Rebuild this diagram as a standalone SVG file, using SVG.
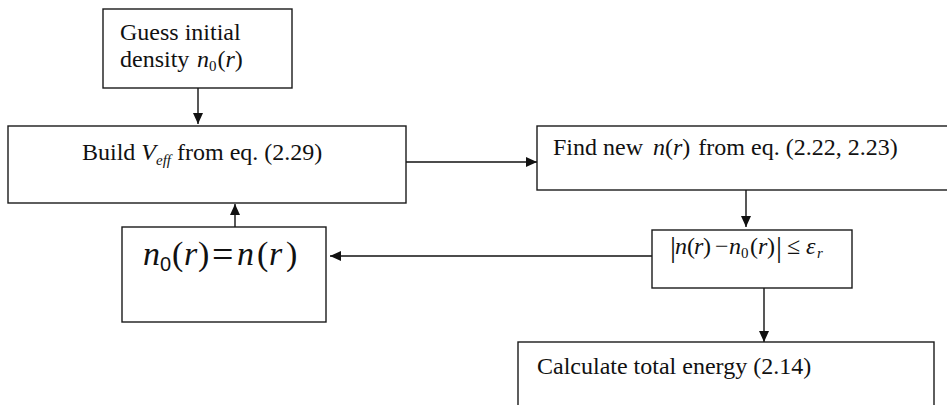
<svg xmlns="http://www.w3.org/2000/svg" width="947" height="405" viewBox="0 0 947 405">
<style>
.box{fill:#fff;stroke:#1a1a1a;stroke-width:1.4}
.t{font-family:"Liberation Serif","Times New Roman",serif;font-size:24px;fill:#111}
.i{font-style:italic}
.sub{font-size:15px}
.big{font-size:34px}
.con{fill:none;stroke:#111;stroke-width:1.4}
</style>
<defs>
<marker id="arr" markerUnits="userSpaceOnUse" markerWidth="12" markerHeight="12" viewBox="0 0 12 12" refX="11" refY="6" orient="auto">
<path d="M0,1 L11,6 L0,11 Z" fill="#111"/>
</marker>
</defs>
<rect width="947" height="405" fill="#fff"/>
<g id="connectors">
<path class="con" d="M198,88 V124" marker-end="url(#arr)"/>
<path class="con" d="M406,162 H537" marker-end="url(#arr)"/>
<path class="con" d="M746,190 V227" marker-end="url(#arr)"/>
<path class="con" d="M652,256 H330" marker-end="url(#arr)"/>
<path class="con" d="M235,227 V204" marker-end="url(#arr)"/>
<path class="con" d="M764,288 V342" marker-end="url(#arr)"/>
</g>
<g id="guess">
<rect class="box" x="103" y="9" width="189" height="79"/>
<text class="t" x="120" y="40">Guess initial</text>
<text class="t" x="120" y="67">density <tspan class="i" x="197">n</tspan><tspan class="sub" dy="4">0</tspan><tspan dy="-4" dx="1">(</tspan><tspan class="i">r</tspan>)</text>
</g>
<g id="build">
<rect class="box" x="8" y="126" width="398" height="77"/>
<text class="t" x="82" y="160">Build <tspan class="i">V</tspan><tspan class="i sub" dy="5">eff</tspan><tspan dy="-5"> from eq. (2.29)</tspan></text>
</g>
<g id="find">
<rect class="box" x="537" y="126" width="430" height="64"/>
<text class="t" x="553" y="155">Find new <tspan class="i" dx="4">n</tspan>(<tspan class="i">r</tspan>)<tspan dx="2"> from eq. (2.22, 2.23)</tspan></text>
</g>
<g id="check">
<rect class="box" x="652" y="230" width="200" height="58"/>
<text class="t" y="254"><tspan x="670" font-size="30" dy="3">|</tspan><tspan class="i" x="675" dy="-3">n</tspan><tspan x="687">(</tspan><tspan class="i" x="694">r</tspan><tspan x="703">)</tspan><tspan x="715">−</tspan><tspan class="i" x="729">n</tspan><tspan class="sub" x="741" dy="4">0</tspan><tspan x="750" dy="-4">(</tspan><tspan class="i" x="758">r</tspan><tspan x="767">)</tspan><tspan x="776" font-size="30" dy="3">|</tspan><tspan x="787" dy="-3">≤</tspan><tspan class="i" x="806">ε</tspan><tspan class="i sub" x="817" dy="4">r</tspan></text>
</g>
<g id="update">
<rect class="box" x="122" y="227" width="204" height="95"/>
<text class="t big" y="265"><tspan class="i" x="143">n</tspan><tspan font-size="20" x="160" dy="6" font-family="Liberation Sans, sans-serif">0</tspan><tspan x="172" dy="-6">(</tspan><tspan class="i" x="184">r</tspan><tspan x="198">)</tspan><tspan x="212" font-size="38" dy="2">=</tspan><tspan class="i" x="237" dy="-2">n</tspan><tspan x="257">(</tspan><tspan class="i" x="269">r</tspan><tspan x="286">)</tspan></text>
</g>
<g id="calc">
<rect class="box" x="518" y="342" width="416" height="80"/>
<text class="t" x="537" y="374">Calculate total energy (2.14)</text>
</g>
</svg>
